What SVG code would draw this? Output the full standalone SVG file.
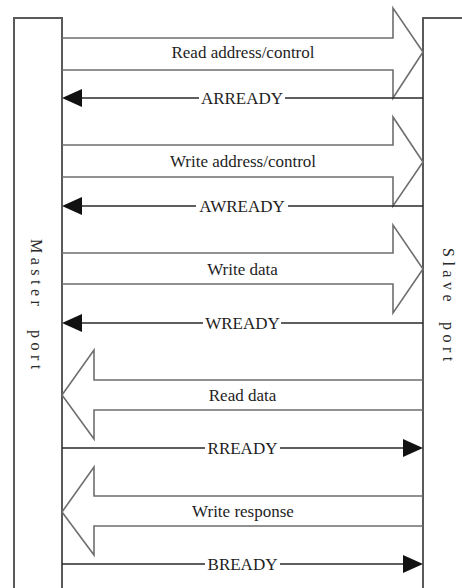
<svg xmlns="http://www.w3.org/2000/svg" width="462" height="588" viewBox="0 0 462 588">
<style>
.box{fill:none;stroke:#5a5a5a;stroke-width:2}
.bus{fill:none;stroke:#6e6e6e;stroke-width:1.6;stroke-linejoin:miter}
.rdy{fill:none;stroke:#2a2a2a;stroke-width:1.6}
.ah{fill:#111;stroke:none}
.lbl{font-family:"Liberation Serif","Times New Roman",serif;font-size:17px;fill:#1e1e1e;text-anchor:middle}
.port{font-family:"Liberation Serif","Times New Roman",serif;font-size:16px;fill:#2a2a2a;letter-spacing:4.5px}
</style>
<rect width="462" height="588" fill="#fff"/>
<g id="master">
<path class="box" d="M14,590 V18 H62 V590"/>
<text class="port" transform="translate(31,239) rotate(90)">Master</text>
<text class="port" transform="translate(31,330) rotate(90)">port</text>
</g>
<g id="slave">
<path class="box" d="M423,590 V18 H464"/>
<text class="port" transform="translate(443,248) rotate(90)">Slave</text>
<text class="port" transform="translate(443,322) rotate(90)">port</text>
</g>
<g id="connectors">
<g id="read-address">
<path class="bus" d="M62,38 H393 V8 L423,52 L393,98 V70 H62"/>
<text class="lbl" x="243" y="58">Read address/control</text>
</g>
<g id="arready">
<path class="rdy" d="M80,98 H199 M285,98 H423"/>
<path class="ah" d="M62,98 L82,89 L82,107 Z"/>
<text class="lbl" x="242" y="104">ARREADY</text>
</g>
<g id="write-address">
<path class="bus" d="M62,145 H393 V117 L423,162 L393,206 V177 H62"/>
<text class="lbl" x="243" y="167">Write address/control</text>
</g>
<g id="awready">
<path class="rdy" d="M80,206 H196 M288,206 H423"/>
<path class="ah" d="M62,206 L82,197 L82,215 Z"/>
<text class="lbl" x="242" y="212">AWREADY</text>
</g>
<g id="write-data">
<path class="bus" d="M62,253 H393 V225 L423,269 L393,313 V284 H62"/>
<text class="lbl" x="242.5" y="275">Write data</text>
</g>
<g id="wready">
<path class="rdy" d="M80,323 H203 M281,323 H423"/>
<path class="ah" d="M62,323 L82,314 L82,332 Z"/>
<text class="lbl" x="242.5" y="329">WREADY</text>
</g>
<g id="read-data">
<path class="bus" d="M423,380 H94 V350 L62,395 L94,439 V410 H423"/>
<text class="lbl" x="242.5" y="401">Read data</text>
</g>
<g id="rready">
<path class="rdy" d="M62,448 H205 M280,448 H405"/>
<path class="ah" d="M423,448 L403,439 L403,457 Z"/>
<text class="lbl" x="242.5" y="454">RREADY</text>
</g>
<g id="write-response">
<path class="bus" d="M423,496 H94 V467 L62,512 L94,555 V526 H423"/>
<text class="lbl" x="243" y="517">Write response</text>
</g>
<g id="bready">
<path class="rdy" d="M62,564 H205 M280,564 H405"/>
<path class="ah" d="M423,564 L403,555 L403,573 Z"/>
<text class="lbl" x="242.5" y="570">BREADY</text>
</g>
</g>
</svg>
